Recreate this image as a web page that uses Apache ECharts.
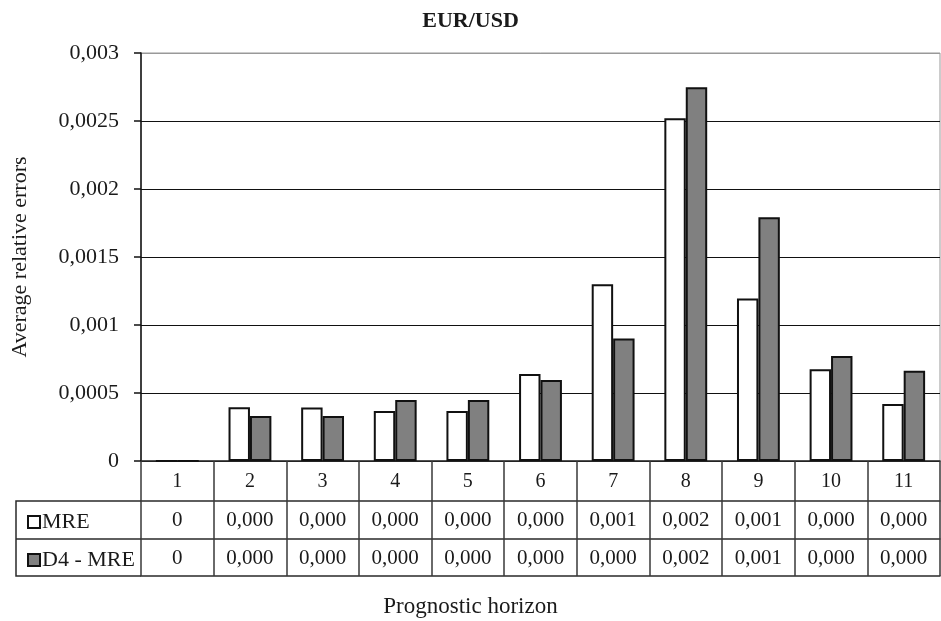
<!DOCTYPE html>
<html>
<head>
<meta charset="utf-8">
<script src="https://cdn.jsdelivr.net/npm/echarts@6/dist/echarts.min.js"></script>
<style>
html,body{margin:0;padding:0;background:#fff;}
#chart{width:941px;height:621px;}
</style>
</head>
<body>
<div id="chart"></div>
<script>
const categories = ['1','2','3','4','5','6','7','8','9','10','11'];
const mreValues = [0, 0.000395, 0.000393, 0.000368, 0.000368, 0.00064, 0.0013, 0.00252, 0.001194, 0.000674, 0.000419];
const d4Values  = [0, 0.00033, 0.00033, 0.000449, 0.000449, 0.000596, 0.0009, 0.002748, 0.001792, 0.000772, 0.000664];
const mreLabels = ['0','0,000','0,000','0,000','0,000','0,000','0,001','0,002','0,001','0,000','0,000'];
const d4Labels  = ['0','0,000','0,000','0,000','0,000','0,000','0,000','0,002','0,001','0,000','0,000'];
const yTickLabels = ['0','0,0005','0,001','0,0015','0,002','0,0025','0,003'];
const seriesNames = ['MRE','D4 - MRE'];

const FONT = 'Liberation Serif';
const TXT = '#1a1a1a';
const TABLE = '#2a2a2a';

const chart = echarts.init(document.getElementById('chart'), null, {renderer:'canvas'});

function tableAxis(offset, labels, tickLen, margin, fontSize) {
  return {
    type:'category', data:categories, gridIndex:0, position:'bottom', offset:offset,
    axisLine:{show:true, lineStyle:{color:TABLE, width:1.5}},
    axisTick:{show: tickLen > 0, alignWithLabel:false, length:tickLen, lineStyle:{color:'#3a3a3a', width:1.5}},
    axisLabel:{show: !!labels, margin:margin, fontFamily:FONT, fontSize:fontSize, color:TXT,
      formatter: function(v, i){ return labels ? labels[i] : ''; }},
    splitLine:{show:false}
  };
}

const option = {
  animation:false,
  backgroundColor:'#fff',
  title:[
    {text:'EUR/USD', left:'center', top:10, padding:0,
     textStyle:{fontFamily:FONT, fontSize:22, fontWeight:'bold', color:TXT}},
    {text:'Prognostic horizon', left:'center', top:595, padding:0,
     textStyle:{fontFamily:FONT, fontSize:23, fontWeight:'normal', color:TXT}}
  ],
  legend:{
    orient:'vertical', left:22, top:505, itemWidth:12, itemHeight:12, itemGap:14,
    data:seriesNames, icon:'rect',
    textStyle:{fontFamily:FONT, fontSize:22, color:TXT, lineHeight:24, padding:[0,0,0,-3]}
  },
  grid:{left:141, right:1, top:53, bottom:160, show:true, borderColor:'#999', borderWidth:1, containLabel:false},
  xAxis:[
    tableAxis(0, categories, 40, 11, 20),
    tableAxis(40, mreLabels, 38, 9, 21),
    tableAxis(78, d4Labels, 37, 9, 21),
    tableAxis(115, null, 0, 0, 12)
  ],
  yAxis:{
    type:'value', min:0, max:0.003, interval:0.0005,
    name:'Average relative errors', nameLocation:'middle', nameGap:110,
    nameTextStyle:{fontFamily:FONT, fontSize:22, color:TXT},
    axisLine:{show:true, lineStyle:{color:'#111', width:1.5}},
    axisTick:{show:true, length:7, lineStyle:{color:'#111', width:1.5}},
    axisLabel:{margin:22, fontFamily:FONT, fontSize:22, color:TXT,
      formatter:function(v){ return yTickLabels[Math.round(v/0.0005)]; }},
    splitLine:{show:true, lineStyle:{color:['#111','#111','#111','#111','#111','#111','#999'], width:1.2}}
  },
  series:[
    {name:seriesNames[0], type:'bar', data:mreValues, barGap:'0%', barCategoryGap:'41%',
     itemStyle:{color:'#ffffff', borderColor:'#111', borderWidth:2}},
    {name:seriesNames[1], type:'bar', data:d4Values, barGap:'0%', barCategoryGap:'41%',
     itemStyle:{color:'#808080', borderColor:'#111', borderWidth:2}}
  ],
  graphic:[
    {type:'polyline', silent:true, shape:{points:[[141,501],[16,501],[16,576],[141,576]]},
     style:{stroke:TABLE, lineWidth:1.5, fill:null}},
    {type:'line', silent:true, shape:{x1:16, y1:539, x2:141, y2:539},
     style:{stroke:TABLE, lineWidth:1.5}}
  ]
};
chart.setOption(option);
</script>
</body>
</html>
